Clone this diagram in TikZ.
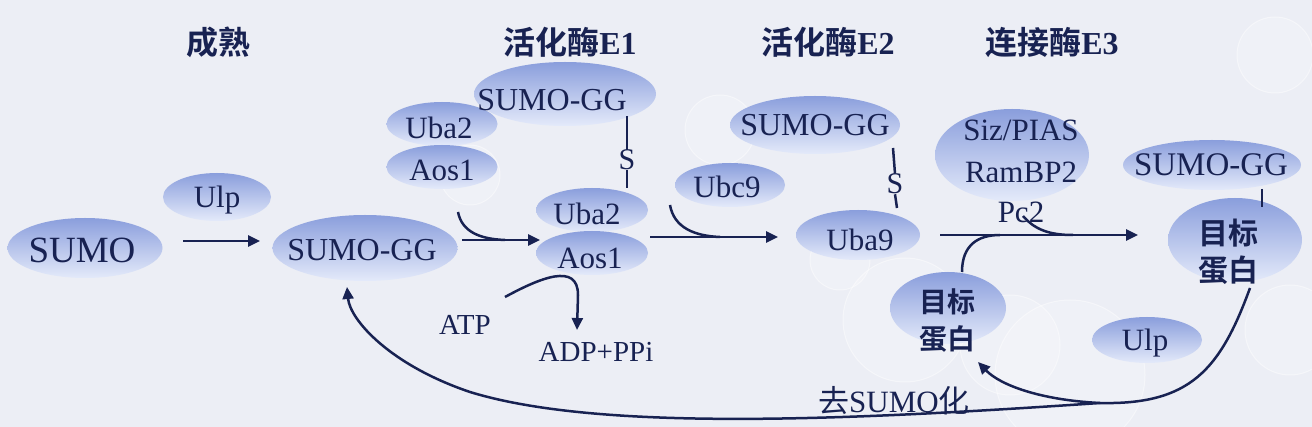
\documentclass[tikz,border=0pt]{standalone}
\usepackage{fontspec}
\setmainfont{Liberation Serif}
\newfontfamily\cjk{Noto Sans CJK SC}
\newfontfamily\cjkb{Noto Sans CJK SC Bold}
\usetikzlibrary{shapes.geometric,arrows.meta}
\definecolor{ink}{RGB}{24,34,82}
\definecolor{elltop}{RGB}{138,158,220}
\definecolor{ellbot}{RGB}{228,234,250}
\definecolor{bg}{RGB}{236,238,245}
\begin{document}
\begin{tikzpicture}[x=1pt,y=-1pt,
  ell/.style={ellipse, inner sep=0pt, draw=none, top color=elltop, bottom color=ellbot},
  deco/.style={draw=white, line width=1pt, fill=white, fill opacity=0.2, draw opacity=0.45},
  txt/.style={text=ink, inner sep=0pt, font=\fontsize{31}{31}\selectfont},
  head/.style={text=ink, inner sep=0pt, font=\fontsize{32}{32}\selectfont},
  tgt/.style={text=ink, inner sep=0pt, align=center, font=\cjkb\fontsize{30}{37}\selectfont},
  conn/.style={draw=ink, line width=2.5pt},
  arr/.style={conn, -{Triangle[length=12pt,width=11pt]}},
]
\useasboundingbox (0,0) rectangle (1312,427);
\fill[bg] (0,0) rectangle (1312,427);
% faint background spheres
\draw[deco] (1275,55) circle (38);
\draw[deco] (1070,375) circle (75);
\draw[deco] (905,320) circle (62);
\draw[deco] (1010,345) circle (50);
\draw[deco] (1290,330) circle (45);
\draw[deco] (470,175) circle (30);
\draw[deco] (720,130) circle (35);
\draw[deco] (840,260) circle (30);

% headings
\node[head] (h0) at (218,42) {\cjkb 成熟};
\node[head] (h1) at (570,42) {\cjkb 活化酶\textrm{\bfseries E1}};
\node[head] (h2) at (828,42) {\cjkb 活化酶\textrm{\bfseries E2}};
\node[head] (h3) at (1052,42) {\cjkb 连接酶\textrm{\bfseries E3}};

% ellipses
\node[ell, minimum width=155pt, minimum height=60pt] (sumo) at (85,248) {};
\node[ell, minimum width=108pt, minimum height=48pt] (ulpA) at (217,197) {};
\node[ell, minimum width=185pt, minimum height=66pt] (sggA) at (365,248) {};
\node[ell, minimum width=182pt, minimum height=64pt] (sggB) at (565,94) {};
\node[ell, minimum width=111pt, minimum height=44pt] (uba2a) at (442,124) {};
\node[ell, minimum width=111pt, minimum height=44pt] (aos1a) at (442,167) {};
\node[ell, minimum width=112pt, minimum height=44pt] (uba2b) at (592,210) {};
\node[ell, minimum width=112pt, minimum height=44pt] (aos1b) at (592,253) {};
\node[ell, minimum width=110pt, minimum height=44pt] (ubc9) at (730,185) {};
\node[ell, minimum width=170pt, minimum height=58pt] (sggC) at (815,125) {};
\node[ell, minimum width=124pt, minimum height=50pt] (uba9) at (858,235) {};
\node[ell, minimum width=154pt, minimum height=92pt] (siz) at (1012,155) {};
\node[ell, minimum width=178pt, minimum height=50pt] (sggD) at (1212,165) {};
\node[ell, minimum width=134pt, minimum height=84pt] (tgtA) at (1235,240) {};
\node[ell, minimum width=116pt, minimum height=72pt] (tgtB) at (948,308) {};
\node[ell, minimum width=110pt, minimum height=46pt] (ulpB) at (1147,340) {};

% texts
\node[txt, font=\fontsize{37}{37}\selectfont] (tsumo) at (82,250) {SUMO};
\node[txt] (tulpA) at (217,200) {Ulp};
\node[txt, font=\fontsize{32}{32}\selectfont] (tsggA) at (362,250) {SUMO-GG};
\node[txt, font=\fontsize{32}{32}\selectfont] (tsggB) at (552,100) {SUMO-GG};
\node[txt] (tuba2a) at (439,128) {Uba2};
\node[txt] (taos1a) at (442,170) {Aos1};
\node[txt] (tuba2b) at (587,214) {Uba2};
\node[txt] (taos1b) at (590,258) {Aos1};
\node[txt] (tubc9) at (727,187) {Ubc9};
\node[txt, font=\fontsize{32}{32}\selectfont] (tsggC) at (815,125) {SUMO-GG};
\node[txt] (tuba9) at (860,240) {Uba9};
\node[txt] (tsiz) at (1021,130) {Siz/PIAS};
\node[txt] (tram) at (1021,172) {RamBP2};
\node[txt] (tpc) at (1021,212) {Pc2};
\node[txt, font=\fontsize{33}{33}\selectfont] (tsggD) at (1211,165) {SUMO-GG};
\node[tgt] (ttgtA) at (1228,252) {目标\\蛋白};
\node[tgt, font=\cjkb\fontsize{28}{37}\selectfont] (ttgtB) at (947,321) {目标\\蛋白};
\node[txt] (tulpB) at (1145,343) {Ulp};
\node[txt, font=\fontsize{29}{29}\selectfont] (tatp) at (465,325) {ATP};
\node[txt, font=\fontsize{29}{29}\selectfont] (tadp) at (596,352) {ADP+PPi};
\node[txt, font=\fontsize{31}{31}\selectfont] (tde) at (894,401) {{\cjk 去}SUMO{\cjk 化}};
\node[txt, font=\fontsize{30}{30}\selectfont] (s1) at (627,160) {S};
\node[txt, font=\fontsize{30}{30}\selectfont] (s2) at (895,184) {S};

% coordinates for free ends
\coordinate (a1s) at (183,241);
\coordinate (a1e) at (260,241);
\coordinate (a2s) at (462,240);
\coordinate (a2e) at (540,240);
\coordinate (c2s) at (458,212);
\coordinate (c2e) at (505,240);
\coordinate (a3s) at (650,237);
\coordinate (a3e) at (778,237);
\coordinate (c3s) at (670,205);
\coordinate (c3e) at (720,237);
\coordinate (a4s) at (940,235);
\coordinate (a4e) at (1138,235);
\coordinate (c4s) at (1023,216);
\coordinate (c4e) at (1073,235);
\coordinate (c5s) at (962,272);
\coordinate (c5e) at (1000,235);
\coordinate (atps) at (505,297);
\coordinate (adpe) at (577,330);
\coordinate (m) at (1100,403);
\coordinate (tB) at (978,362);
\coordinate (tA) at (1250,288);
\coordinate (sA) at (347,287);

% connectors
\draw[arr] (a1s) -- (a1e);
\draw[arr] (a2s) -- (a2e);
\draw[conn] (c2s) .. controls (462,232) and (480,239) .. (c2e);
\draw[arr] (a3s) -- (a3e);
\draw[conn] (c3s) .. controls (674,228) and (695,236) .. (c3e);
\draw[arr] (a4s) -- (a4e);
\draw[conn] (c4s) .. controls (1035,230) and (1050,235) .. (c4e);
\draw[conn] (c5s) .. controls (962,245) and (978,235) .. (c5e);
\draw[arr] (atps) .. controls (540,278) and (578,262) .. (578,295) -- (adpe);
\draw[conn] (627,116) -- (s1.north);
\draw[conn] (s1.south) -- (uba2b.north -| s1.south);
\draw[conn] (893,148) -- (s2.north);
\draw[conn] (s2.south) -- (897,208);
\draw[conn] (1262,189) -- (1262,207);
\draw[arr] (tA) .. controls (1220,370) and (1190,405) .. (m) .. controls (1040,400) and (1000,385) .. (tB);
\draw[arr] (m) .. controls (850,420) and (600,432) .. (470,392) .. controls (390,365) and (350,320) .. (sA);
\end{tikzpicture}
\end{document}
